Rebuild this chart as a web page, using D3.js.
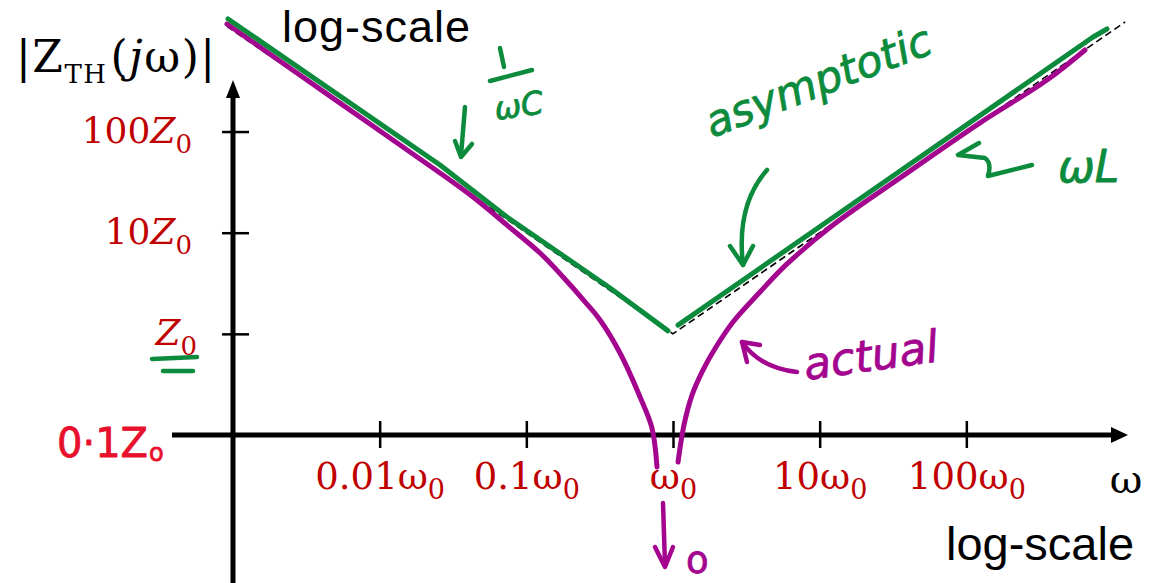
<!DOCTYPE html>
<html>
<head>
<meta charset="utf-8">
<script src="https://cdn.jsdelivr.net/npm/d3@7"></script>
<style>
  html, body { margin: 0; padding: 0; background: #fff; }
  svg { display: block; }
</style>
</head>
<body>
<svg id="chart" width="1158" height="583"></svg>
<script>
// ---- tick positions and labels (ω in units of ω0, |Z| in units of Z0) ----
const freqTicks = [0.01, 0.1, 1, 10, 100];
const freqTickPrefix = ["0.01", "0.1", "", "10", "100"];
const impTicks = [1, 10, 100];
const impTickPrefix = ["", "10", "100"];

// ---- ideal asymptotes: 1/(ωC) below ω0, ωL above ω0 ----
const idealW = [0.00091, 1, 1210];
const idealZ = [1099, 1, 1210];

// ---- sketched asymptotic (green) branches ----
const asymLowW  = [0.000925, 0.0258, 0.0738, 0.372, 0.925];
const asymLowZ  = [1297, 46.7, 14.3, 2.84, 1.07];
const asymHighW = [1.082, 35.3, 731, 910];
const asymHighZ = [1.22, 40.7, 861, 1033];

// ---- actual |Z_TH| (magenta), dips towards 0 at ω0 ----
const actualLowW  = [0.00091, 0.00537, 0.0258, 0.0433, 0.0738, 0.124, 0.178, 0.259, 0.318, 0.435, 0.596, 0.719, 0.778];
const actualLowZ  = [1156, 191, 38.9, 22.5, 11.9, 6.30, 3.65, 1.97, 1.37, 0.647, 0.238, 0.117, 0.0483];
const actualHighW = [1.082, 1.189, 1.348, 1.601, 1.964, 2.565, 3.918, 5.894, 12.33, 35.3, 124, 355, 644];
const actualHighZ = [0.054, 0.126, 0.248, 0.439, 0.741, 1.31, 2.59, 4.80, 11.9, 34.8, 122, 323, 640];

const GREEN = "#0c8b3d";
const MAGENTA = "#a3058f";
const DARKRED = "#c00000";
const RED = "#e8112d";

const svg = d3.select("#chart");

const x = d3.scaleLog().domain([1e-3, 1e3]).range([233, 1113]);
const y = d3.scaleLog().domain([0.1, 1e3]).range([435, 30.4]);

const x0 = x(1e-3), y0 = y(0.1);

// ---- axes: thick lines with arrow heads ----
const axes = svg.append("g");
axes.append("line").attr("x1", 172).attr("x2", 1114).attr("y1", y0).attr("y2", y0)
  .attr("stroke", "#000").attr("stroke-width", 5);
axes.append("path").attr("d", `M1111,${y0 - 8} L1128,${y0} L1111,${y0 + 8} Z`).attr("fill", "#000");
axes.append("line").attr("x1", x0).attr("x2", x0).attr("y1", 583).attr("y2", 95)
  .attr("stroke", "#000").attr("stroke-width", 5);
axes.append("path").attr("d", `M${x0 - 7},98 L${x0},80 L${x0 + 7},98 Z`).attr("fill", "#000");

// x ticks
const gx = svg.append("g").attr("transform", `translate(0,${y0})`)
  .call(d3.axisBottom(x).tickValues(freqTicks).tickSizeOuter(0).tickFormat(() => ""));
gx.select(".domain").remove();
gx.selectAll(".tick line").attr("y1", -14).attr("y2", 13).attr("stroke", "#000").attr("stroke-width", 2.5);
gx.selectAll(".tick text").remove();
gx.selectAll(".tick").each(function(d, i) {
  const t = d3.select(this).append("text")
    .attr("y", 54).attr("text-anchor", "middle")
    .attr("fill", DARKRED)
    .style("font-family", "'DejaVu Serif', serif").style("font-size", "37px");
  if (freqTickPrefix[i]) t.append("tspan").text(freqTickPrefix[i]);
  t.append("tspan").text("ω");
  t.append("tspan").attr("dy", 10).style("font-size", "27px").text("0");
});

// y ticks
const gy = svg.append("g").attr("transform", `translate(${x0},0)`)
  .call(d3.axisLeft(y).tickValues(impTicks).tickSizeOuter(0).tickFormat(() => ""));
gy.select(".domain").remove();
gy.selectAll(".tick line").attr("x1", -11).attr("x2", 16).attr("stroke", "#000").attr("stroke-width", 2.5);
gy.selectAll(".tick text").remove();
gy.selectAll(".tick").each(function(d, i) {
  const t = d3.select(this).append("text")
    .attr("x", i === 0 ? -36 : -41).attr("y", 11).attr("text-anchor", "end")
    .attr("fill", DARKRED)
    .style("font-family", "'DejaVu Serif', serif").style("font-size", "36px");
  if (impTickPrefix[i]) t.append("tspan").text(impTickPrefix[i]);
  t.append("tspan").style("font-style", "italic").text("Z");
  t.append("tspan").attr("dy", 10).style("font-size", "26px").text("0");
});

// ---- axis titles ----
const yt = svg.append("text").attr("x", 16).attr("y", 72)
  .style("font-family", "'DejaVu Serif', serif").style("font-size", "44px")
  .style("letter-spacing", "1.5px").attr("fill", "#000");
yt.append("tspan").text("|Z");
yt.append("tspan").attr("dy", 11).style("font-size", "26px").text("TH");
yt.append("tspan").attr("dy", -11).attr("dx", 3).text("(");
yt.append("tspan").style("font-style", "italic").text("j");
yt.append("tspan").text("ω)|");

svg.append("text").attr("x", 1126).attr("y", 493).attr("text-anchor", "middle")
  .style("font-family", "'DejaVu Serif', serif").style("font-size", "40px").text("ω");

svg.append("text").attr("x", 282).attr("y", 42)
  .style("font-family", "'Liberation Sans', Arial, sans-serif").style("font-size", "45px")
  .style("letter-spacing", "1px").text("log-scale");
svg.append("text").attr("x", 946).attr("y", 560)
  .style("font-family", "'Liberation Sans', Arial, sans-serif").style("font-size", "47px").text("log-scale");

// ---- curves ----
const zip = (a, b) => a.map((v, i) => [v, b[i]]);
const straight = d3.line().x(d => x(d[0])).y(d => y(d[1]));
const smooth = d3.line().x(d => x(d[0])).y(d => y(d[1])).curve(d3.curveCatmullRom.alpha(0.5));

svg.append("path").datum(zip(idealW, idealZ)).attr("d", straight)
  .attr("fill", "none").attr("stroke", "#000").attr("stroke-width", 1.6).attr("stroke-dasharray", "7,4");

[[actualLowW, actualLowZ], [actualHighW, actualHighZ]].forEach(([w, z]) => {
  svg.append("path").datum(zip(w, z)).attr("d", smooth)
    .attr("fill", "none").attr("stroke", MAGENTA).attr("stroke-width", 5)
    .attr("stroke-linecap", "round").attr("stroke-linejoin", "round");
});

[[asymLowW, asymLowZ], [asymHighW, asymHighZ]].forEach(([w, z]) => {
  svg.append("path").datum(zip(w, z)).attr("d", straight)
    .attr("fill", "none").attr("stroke", GREEN).attr("stroke-width", 5)
    .attr("stroke-linecap", "round").attr("stroke-linejoin", "round");
});

// ---- pen annotations ----
const pen = (d, color, w = 4.5) => svg.append("path").attr("d", d).attr("fill", "none")
  .attr("stroke", color).attr("stroke-width", w)
  .attr("stroke-linecap", "round").attr("stroke-linejoin", "round");
const hand = (s, px, py, size, color, rot = 0, italic = true) => svg.append("text")
  .attr("x", px).attr("y", py)
  .attr("transform", `rotate(${rot},${px},${py})`)
  .style("font-family", "'DejaVu Sans', sans-serif").style("font-style", italic ? "italic" : "normal")
  .style("font-size", size + "px")
  .attr("fill", color).attr("stroke", color).attr("stroke-width", 0.8)
  .attr("stroke-linejoin", "round").text(s);

// 1/(ωC) near the low-frequency asymptote
pen("M500,48 L504,67", GREEN);
pen("M490,81 L532,70", GREEN);
hand("ωC", 496, 120, 32, GREEN, -8);
pen("M465,107 L461,155", GREEN);
pen("M455,141 L461,157 L472,144", GREEN);

// "asymptotic" with its arrow
hand("asymptotic", 712, 138, 43, GREEN, -21);
pen("M767,170 Q736,205 743,265", GREEN);
pen("M730,246 L743,265 L753,246", GREEN);

// ≈ ωL near the high-frequency asymptote
pen("M979,143 L958,155 L985,158 Q992,163 988,176 L1032,165", GREEN);
hand("ωL", 1058, 182, 44, GREEN, 0);

// "actual" with its arrow
hand("actual", 806, 380, 44, MAGENTA, -8);
pen("M742,342 Q760,368 797,372", MAGENTA);
pen("M747,362 L742,342 L760,345", MAGENTA);

// |Z| → 0 at ω0
pen("M663,503 L665,565", MAGENTA);
pen("M655,547 L665,567 L673,547", MAGENTA);
hand("o", 686, 573, 37, MAGENTA, 0, false);

// Z0 emphasis and the 0.1 Z0 level on the frequency axis
pen("M152,359 L197,357", GREEN);
pen("M163,371 L193,371", GREEN);
hand("0·1Z", 57, 457, 40, RED, 0, false);
hand("o", 149, 461, 24, RED, 0, false);
</script>
</body>
</html>
